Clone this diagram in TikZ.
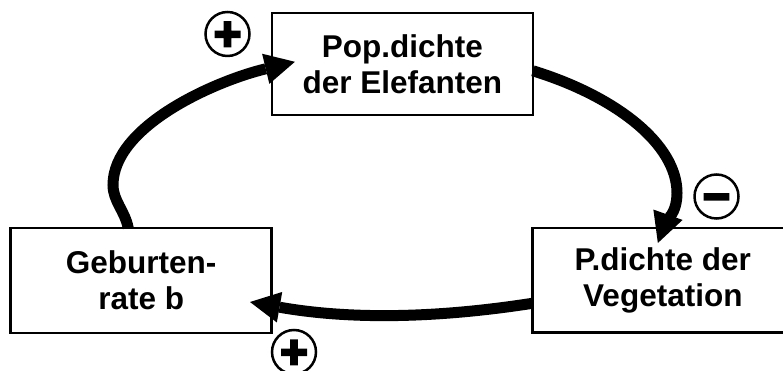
\documentclass[tikz,border=0pt]{standalone}
\usepackage{fontspec}
\setmainfont{Liberation Sans}
\newfontfamily\signfont[FakeBold=5]{Liberation Sans Bold}
\usetikzlibrary{arrows.meta,calc}
\begin{document}
\begin{tikzpicture}[x=1pt,y=1pt,
  box/.style={draw, line width=2.5pt, fill=white, inner sep=0pt, outer sep=0pt,
    align=center, font=\bfseries\fontsize{31.5}{36}\selectfont},
  arr/.style={line width=11pt, -{Triangle[length=30pt,width=31pt,line width=0pt]}},
  sign/.style={circle, draw, line width=2.5pt, minimum size=44pt, inner sep=0pt,
    text height=32pt, text depth=0pt, font=\signfont\fontsize{47}{47}\selectfont}]
\useasboundingbox (0,0) rectangle (783,371);
\node[box, minimum width=261pt, minimum height=102pt] (tb) at (402.4,307.2) {Pop.dichte\\der Elefanten};
\node[box, minimum width=261pt, minimum height=105pt] (lb) at (141.2,90.5) {Geburten-\\rate b};
\node[box, minimum width=260.3pt, minimum height=104.5pt] (rb) at (662.85,90.75) {P.dichte der\\Vegetation};
\coordinate (k1) at (113,186);
\coordinate (k2) at (677,178);
\draw[arr] ($(lb.north)+(-13,0)$) .. controls (125,160) and (113,170) .. (k1)
  .. controls (113,245) and (215,290) .. ($(tb.west)+(23,2)$);
\draw[arr] ($(tb.east)+(0,-7)$) .. controls (615.7,274.7) and (677,227) .. (k2)
  .. controls (677,157) and (665,148) .. ($(rb.north)+(-5,-15)$);
\draw[arr] ($(rb.west)+(0,-23)$) .. controls (434,52.4) and (348.5,51.6) .. ($(lb.east)+(-21.7,-21.5)$);
\node[sign] (p1) at (227.5,337) {+};
\node[sign] (mi) at (716.5,174.5) {−};
\node[sign] (p2) at (294,19) {+};
\end{tikzpicture}
\end{document}
